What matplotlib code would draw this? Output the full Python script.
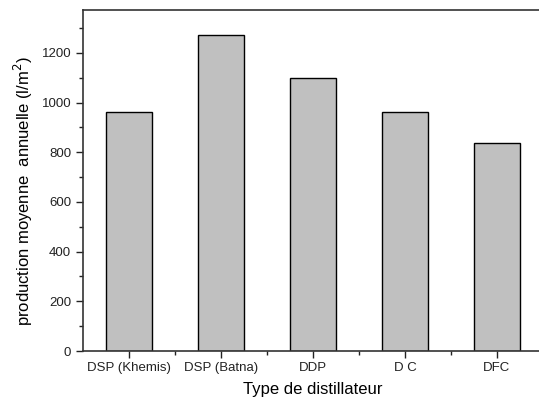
import matplotlib
matplotlib.use("Agg")
import matplotlib.pyplot as plt
from matplotlib.ticker import MultipleLocator, FixedLocator

categories = ["DSP (Khemis)", "DSP (Batna)", "DDP", "D C", "DFC"]
values = [961, 1271, 1100, 962, 837]

plt.rcParams['font.family'] = ['Liberation Sans', 'DejaVu Sans']

fig = plt.figure(figsize=(5.39, 4.01), dpi=100)
W, H = 539, 401
left, right, top, bottom = 83, 543, 10, 351
ax = fig.add_axes([left / W, 1 - bottom / H, (right - left) / W, (bottom - top) / H])

x = list(range(1, len(categories) + 1))
ax.bar(x, values, width=0.5, color="#c0c0c0", edgecolor="black", linewidth=1.0)

ax.set_xlim(0.5, len(categories) + 0.5)
ax.set_ylim(0, 1373)
ax.set_xticks(x)
ax.set_xticklabels(categories, fontsize=9.5)
ax.xaxis.set_minor_locator(FixedLocator([i + 0.5 for i in range(1, len(categories))]))
ax.yaxis.set_major_locator(MultipleLocator(200))
ax.yaxis.set_minor_locator(MultipleLocator(100))
ax.tick_params(axis='both', which='major', direction='out', length=5, width=1, labelsize=9.5, colors='#222222')
ax.tick_params(axis='both', which='minor', direction='out', length=3, width=1, colors='#222222')
ax.tick_params(axis='x', pad=3)
for s in ax.spines.values():
    s.set_color('#333333')
    s.set_linewidth(1.2)

ax.set_xlabel("Type de distillateur", fontsize=12, labelpad=6)
ax.set_ylabel("production moyenne  annuelle (l/m$^2$)", fontsize=12)
ax.yaxis.set_label_coords(-0.105, 0.469)

fig.savefig("out.png", dpi=100)
